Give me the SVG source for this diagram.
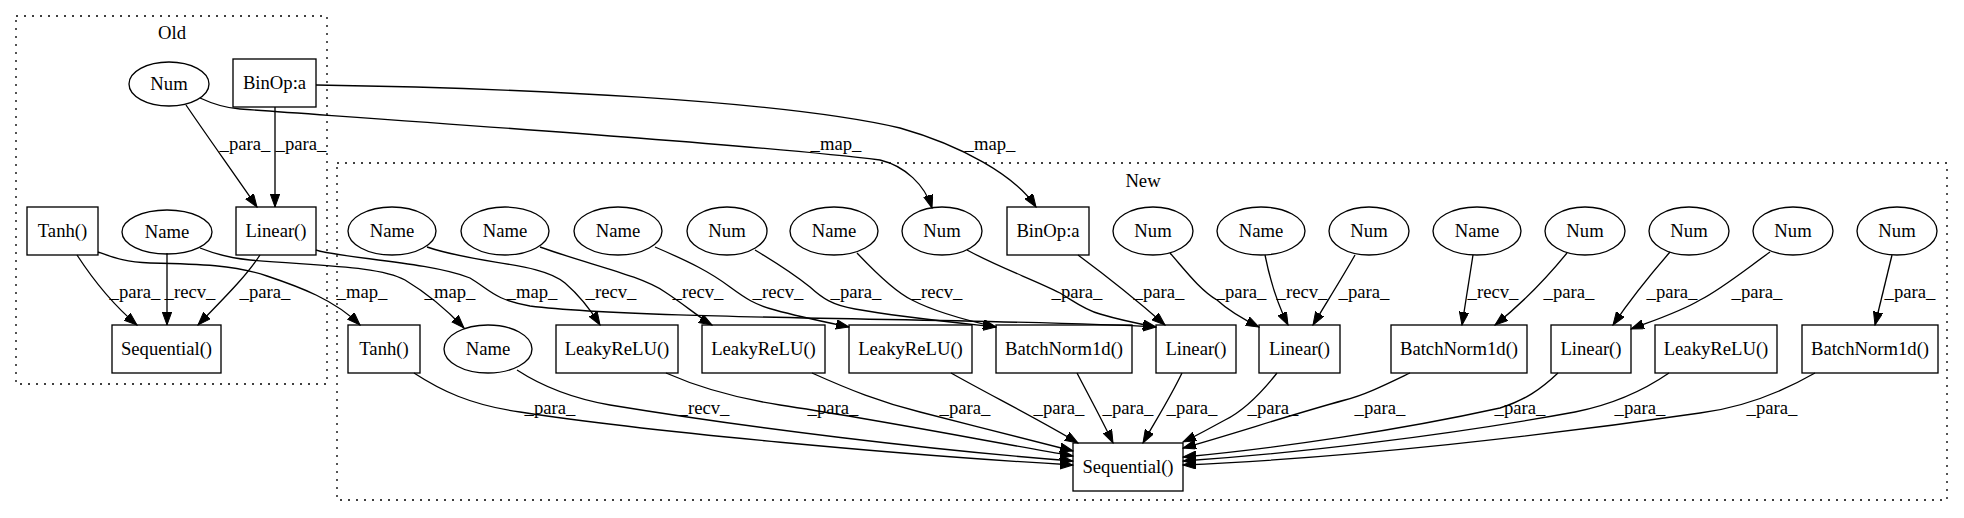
<svg xmlns="http://www.w3.org/2000/svg" width="1964" height="518" viewBox="0 0 1964 518" font-family="'Liberation Serif', 'Times New Roman', 'DejaVu Serif', serif">
<style>
text{font-family:'Liberation Serif','Times New Roman','DejaVu Serif',serif;font-size:18.67px;fill:#000;text-anchor:middle}
.n{fill:none;stroke:#000;stroke-width:1.33}
.c{fill:none;stroke:#000;stroke-width:1.33;stroke-dasharray:2,6}
.e{fill:none;stroke:#000;stroke-width:1.33;marker-end:url(#ah)}
</style>
<defs>
<marker id="ah" markerUnits="userSpaceOnUse" markerWidth="14" markerHeight="10" refX="13" refY="4.7" orient="auto">
<path d="M0,0 L13,4.7 L0,9.4 z" fill="#000" stroke="#000" stroke-width="1"/>
</marker>
</defs>
<rect width="1964" height="518" fill="#fff"/>
<g id="cluster_old"><rect class="c" x="16" y="16" width="311" height="368"/><text x="172" y="39">Old</text></g>
<g id="cluster_new"><rect class="c" x="337" y="163" width="1610" height="337"/><text x="1143" y="187">New</text></g>

<g id="connectors">
<path class="e" d="M186,105 C205,133 235,175 257,207"/>
<path class="e" d="M275,107 L275,207"/>
<path class="e" d="M77,255 C90,275 110,302 137,325"/>
<path class="e" d="M167,253 L167,325"/>
<path class="e" d="M260,255 C245,278 220,302 198,325"/>
<path class="e" d="M200,98 C215,105 225,108 240,109 C420,122 760,145 880,160 C905,166 925,185 932,208"/>
<path class="e" d="M316,85 C520,88 780,100 900,128 C960,145 1015,175 1036,207"/>
<path class="e" d="M98,252 C115,258 125,262 150,263 C200,264 235,265 267,276 C300,287 335,300 360,325"/>
<path class="e" d="M200,248 C215,254 228,258 250,260 C320,266 380,266 405,280 C425,292 445,308 464,328"/>
<path class="e" d="M316,250 C340,258 430,262 470,278 C490,290 495,300 530,306 C640,320 1000,318 1156,327"/>
<path class="e" d="M427,247 C480,265 540,262 565,283 C580,296 592,312 600,325"/>
<path class="e" d="M540,247 C590,265 640,275 665,292 C685,305 700,318 712,325"/>
<path class="e" d="M655,247 C690,262 710,272 730,287 C745,298 755,305 775,310 C800,317 825,322 849,327"/>
<path class="e" d="M755,250 C780,265 795,275 810,287 C822,298 832,305 855,309 C900,317 950,322 996,327"/>
<path class="e" d="M857,253 C875,272 895,292 912,300 C935,312 965,320 996,327"/>
<path class="e" d="M967,250 C1000,268 1035,280 1060,293 C1075,302 1085,310 1100,314 C1120,320 1140,324 1156,327"/>
<path class="e" d="M1078,255 C1105,275 1140,303 1165,325"/>
<path class="e" d="M1170,253 C1185,270 1200,290 1217,300 C1230,312 1245,320 1259,327"/>
<path class="e" d="M1265,255 C1270,280 1278,305 1288,325"/>
<path class="e" d="M1355,255 C1342,278 1328,300 1313,325"/>
<path class="e" d="M1473,255 L1462,325"/>
<path class="e" d="M1567,253 C1545,280 1520,305 1495,325"/>
<path class="e" d="M1670,252 C1650,275 1630,300 1613,325"/>
<path class="e" d="M1770,252 C1745,270 1720,290 1700,300 C1680,312 1655,320 1631,329"/>
<path class="e" d="M1892,255 L1875,325"/>
<path class="e" d="M414,373 C440,390 470,405 520,412 C650,432 900,455 1073,465"/>
<path class="e" d="M517,370 C540,385 570,398 610,405 C750,428 930,450 1073,461"/>
<path class="e" d="M666,373 C700,388 735,398 780,405 C880,420 980,440 1073,456"/>
<path class="e" d="M812,373 C850,390 880,402 920,412 C970,425 1030,440 1073,451"/>
<path class="e" d="M951,373 C990,395 1040,420 1078,443"/>
<path class="e" d="M1077,373 C1090,398 1102,420 1113,443"/>
<path class="e" d="M1182,373 C1170,398 1156,420 1143,443"/>
<path class="e" d="M1277,373 C1262,392 1245,410 1225,420 C1210,428 1198,435 1183,442"/>
<path class="e" d="M1410,373 C1385,385 1365,395 1345,400 C1290,415 1230,435 1183,448"/>
<path class="e" d="M1558,373 C1540,390 1525,400 1500,408 C1400,430 1280,448 1183,457"/>
<path class="e" d="M1669,373 C1640,393 1610,405 1575,412 C1450,435 1300,453 1183,461"/>
<path class="e" d="M1815,373 C1780,393 1740,408 1700,413 C1550,435 1350,458 1183,465"/>

<text x="245" y="150">_para_</text>
<text x="301" y="150">_para_</text>
<text x="135" y="298">_para_</text>
<text x="190" y="298">_recv_</text>
<text x="265" y="298">_para_</text>
<text x="836" y="150">_map_</text>
<text x="990" y="150">_map_</text>
<text x="362" y="298">_map_</text>
<text x="450" y="298">_map_</text>
<text x="532" y="298">_map_</text>
<text x="611" y="298">_recv_</text>
<text x="698" y="298">_recv_</text>
<text x="778" y="298">_recv_</text>
<text x="856" y="298">_para_</text>
<text x="937" y="298">_recv_</text>
<text x="1077" y="298">_para_</text>
<text x="1159" y="298">_para_</text>
<text x="1241" y="298">_para_</text>
<text x="1302" y="298">_recv_</text>
<text x="1364" y="298">_para_</text>
<text x="1493" y="298">_recv_</text>
<text x="1569" y="298">_para_</text>
<text x="1672" y="298">_para_</text>
<text x="1757" y="298">_para_</text>
<text x="1910" y="298">_para_</text>
<text x="550" y="414">_para_</text>
<text x="704" y="414">_recv_</text>
<text x="833" y="414">_para_</text>
<text x="965" y="414">_para_</text>
<text x="1059" y="414">_para_</text>
<text x="1128" y="414">_para_</text>
<text x="1192" y="414">_para_</text>
<text x="1273" y="414">_para_</text>
<text x="1380" y="414">_para_</text>
<text x="1520" y="414">_para_</text>
<text x="1640" y="414">_para_</text>
<text x="1772" y="414">_para_</text>
</g>

<g id="old_num"><ellipse class="n" cx="169" cy="84" rx="40" ry="22"/><text x="169" y="90">Num</text></g>
<g id="old_binop"><rect class="n" x="233" y="59" width="83" height="48"/><text x="274.5" y="89">BinOp:a</text></g>
<g id="old_tanh"><rect class="n" x="27" y="207" width="71" height="48"/><text x="62.5" y="237">Tanh()</text></g>
<g id="old_name"><ellipse class="n" cx="167" cy="232" rx="45" ry="22"/><text x="167" y="238">Name</text></g>
<g id="old_linear"><rect class="n" x="236" y="207" width="80" height="48"/><text x="276" y="237">Linear()</text></g>
<g id="old_sequential"><rect class="n" x="112" y="325" width="109" height="48"/><text x="166.5" y="355">Sequential()</text></g>

<g id="new_name1"><ellipse class="n" cx="392" cy="231" rx="44" ry="24"/><text x="392" y="237">Name</text></g>
<g id="new_name2"><ellipse class="n" cx="505" cy="231" rx="44" ry="24"/><text x="505" y="237">Name</text></g>
<g id="new_name3"><ellipse class="n" cx="618" cy="231" rx="44" ry="24"/><text x="618" y="237">Name</text></g>
<g id="new_num1"><ellipse class="n" cx="727" cy="231" rx="40" ry="24"/><text x="727" y="237">Num</text></g>
<g id="new_name4"><ellipse class="n" cx="834" cy="231" rx="44" ry="24"/><text x="834" y="237">Name</text></g>
<g id="new_num2"><ellipse class="n" cx="942" cy="231" rx="40" ry="24"/><text x="942" y="237">Num</text></g>
<g id="new_binop"><rect class="n" x="1007" y="207" width="82" height="48"/><text x="1048" y="237">BinOp:a</text></g>
<g id="new_num3"><ellipse class="n" cx="1153" cy="231" rx="40" ry="24"/><text x="1153" y="237">Num</text></g>
<g id="new_name5"><ellipse class="n" cx="1261" cy="231" rx="44" ry="24"/><text x="1261" y="237">Name</text></g>
<g id="new_num4"><ellipse class="n" cx="1369" cy="231" rx="40" ry="24"/><text x="1369" y="237">Num</text></g>
<g id="new_name6"><ellipse class="n" cx="1477" cy="231" rx="44" ry="24"/><text x="1477" y="237">Name</text></g>
<g id="new_num5"><ellipse class="n" cx="1585" cy="231" rx="40" ry="24"/><text x="1585" y="237">Num</text></g>
<g id="new_num6"><ellipse class="n" cx="1689" cy="231" rx="40" ry="24"/><text x="1689" y="237">Num</text></g>
<g id="new_num7"><ellipse class="n" cx="1793" cy="231" rx="40" ry="24"/><text x="1793" y="237">Num</text></g>
<g id="new_num8"><ellipse class="n" cx="1897" cy="231" rx="40" ry="24"/><text x="1897" y="237">Num</text></g>

<g id="new_tanh"><rect class="n" x="348" y="325" width="72" height="48"/><text x="384" y="355">Tanh()</text></g>
<g id="new_name7"><ellipse class="n" cx="488" cy="349" rx="44" ry="24"/><text x="488" y="355">Name</text></g>
<g id="new_leaky1"><rect class="n" x="556" y="325" width="122" height="48"/><text x="617" y="355">LeakyReLU()</text></g>
<g id="new_leaky2"><rect class="n" x="702" y="325" width="123" height="48"/><text x="763.5" y="355">LeakyReLU()</text></g>
<g id="new_leaky3"><rect class="n" x="849" y="325" width="123" height="48"/><text x="910.5" y="355">LeakyReLU()</text></g>
<g id="new_bn1"><rect class="n" x="996" y="325" width="136" height="48"/><text x="1064" y="355">BatchNorm1d()</text></g>
<g id="new_linear1"><rect class="n" x="1156" y="325" width="80" height="48"/><text x="1196" y="355">Linear()</text></g>
<g id="new_linear2"><rect class="n" x="1259" y="325" width="81" height="48"/><text x="1299.5" y="355">Linear()</text></g>
<g id="new_bn2"><rect class="n" x="1391" y="325" width="136" height="48"/><text x="1459" y="355">BatchNorm1d()</text></g>
<g id="new_linear3"><rect class="n" x="1551" y="325" width="80" height="48"/><text x="1591" y="355">Linear()</text></g>
<g id="new_leaky4"><rect class="n" x="1655" y="325" width="122" height="48"/><text x="1716" y="355">LeakyReLU()</text></g>
<g id="new_bn3"><rect class="n" x="1802" y="325" width="136" height="48"/><text x="1870" y="355">BatchNorm1d()</text></g>
<g id="new_sequential"><rect class="n" x="1073" y="443" width="110" height="48"/><text x="1128" y="473">Sequential()</text></g>
</svg>
